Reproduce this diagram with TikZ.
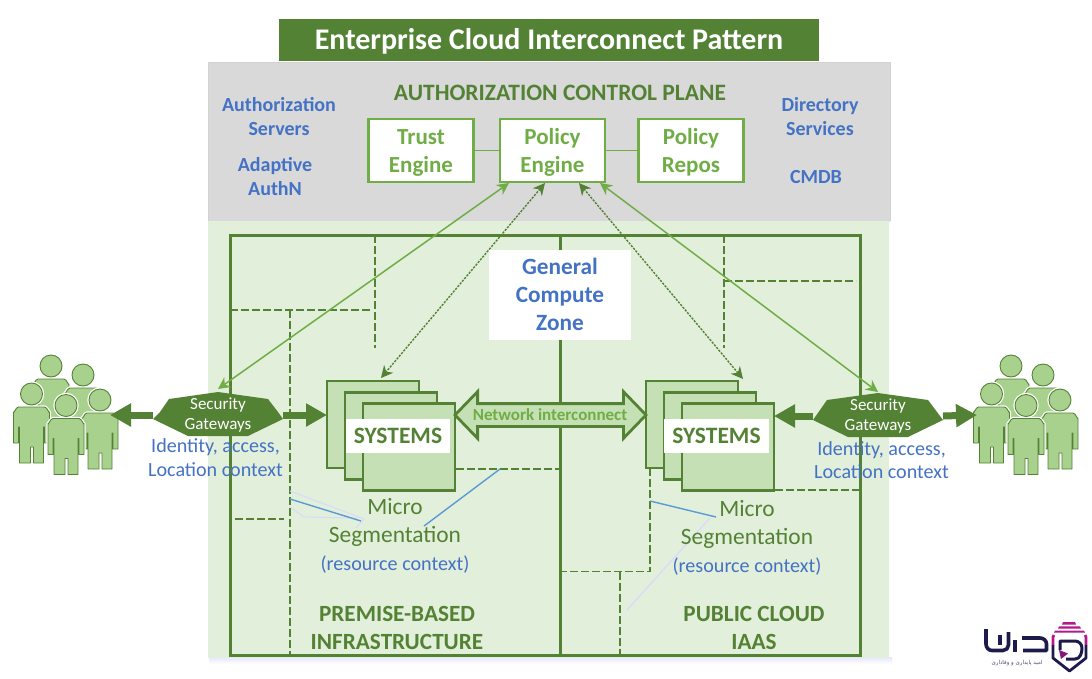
\documentclass[tikz,border=0pt]{standalone}
\usepackage{fontspec}
\setmainfont{Carlito}
\newfontfamily\arabicfont[Script=Arabic]{DejaVu Sans}
\TeXXeTstate=1
\usetikzlibrary{arrows.meta,shapes.arrows}
\definecolor{dkgreen}{HTML}{548235}
\definecolor{ltgreen}{HTML}{70AD47}
\definecolor{palegreen}{HTML}{E2EFDA}
\definecolor{sysgreen}{HTML}{C5E0B4}
\definecolor{usergreen}{HTML}{A9D18E}
\definecolor{txtblue}{HTML}{4472C4}
\definecolor{lnblue}{HTML}{5B9BD5}
\definecolor{graybg}{HTML}{D9D9D9}
\definecolor{logonavy}{HTML}{1D1B4C}
\definecolor{logopink}{HTML}{B5178C}
\tikzset{
  lbl/.style={align=center,inner sep=0,outer sep=0},
  engine/.style={draw=ltgreen,line width=2.8pt,fill=white,minimum width=105pt,minimum height=63pt,inner sep=0,outer sep=0},
  enginetxt/.style={lbl,text=ltgreen,font=\fontsize{23}{28}\selectfont\bfseries},
  sysbox/.style={draw=dkgreen,line width=2.8pt,fill=sysgreen,minimum width=92pt,minimum height=87pt,inner sep=0,outer sep=0},
  syslabel/.style={fill=white,minimum height=34pt,inner sep=0,outer sep=0,text=dkgreen,font=\fontsize{23.5}{28}\selectfont\bfseries},
  frameline/.style={draw=dkgreen,line width=3pt},
  dashline/.style={draw=dkgreen,line width=1.7pt,dash pattern=on 8pt off 3pt},
  gwshape/.style={fill=dkgreen,draw=none},
  gwtext/.style={minimum width=130pt,minimum height=48pt,inner sep=0,outer sep=0,align=center,text=white,font=\fontsize{17}{20}\selectfont},
  thickone/.style={draw=dkgreen,fill=dkgreen,line width=7pt,-{Triangle[width=22pt,length=21pt]}},
  solidlink/.style={draw=ltgreen,line width=1.5pt,{Stealth[length=12pt,width=12pt]}-{Stealth[length=12pt,width=12pt]}},
  dotlink/.style={draw=dkgreen,line width=1.4pt,dash pattern=on 2.2pt off 1.3pt,{Stealth[length=12pt,width=12pt]}-{Stealth[length=12pt,width=12pt]}},
  netarrow/.style={double arrow,double arrow head extend=12pt,double arrow tip angle=92,minimum height=191pt,draw=dkgreen,line width=2.8pt,fill=sysgreen,inner sep=0,outer sep=0},
  bluelbl/.style={lbl,text=txtblue,font=\fontsize{20.1}{23.5}\selectfont},
  boldblue/.style={lbl,text=txtblue,font=\fontsize{20}{24}\selectfont\bfseries},
  segtxt/.style={lbl,text=dkgreen,font=\fontsize{23.4}{28}\selectfont},
  zonetxt/.style={lbl,text=dkgreen,font=\fontsize{23.2}{28}\selectfont\bfseries},
  person/.pic={
    \path[draw=white,line width=3.4pt,fill=white,line join=round] (18,-13) circle[radius=11];
    \path[draw=white,line width=3.4pt,fill=white,line join=round] (0,5) to[out=-90,in=180] (5,0) -- (31,0) to[out=0,in=-90] (36,5) -- (36,36) -- (31,36) -- (30,56) -- (6,56) -- (5,36) -- (0,36) -- cycle;
    \path[draw=dkgreen,line width=0.9pt,fill=usergreen] (18,-13) circle[radius=11];
    \path[draw=dkgreen,line width=0.9pt,fill=usergreen,line join=round] (0,5) to[out=-90,in=180] (5,0) -- (31,0) to[out=0,in=-90] (36,5) -- (36,36) -- (31,36) -- (31,20) -- (30,20) -- (30,56) -- (20,56) -- (20,40) -- (17,40) -- (17,56) -- (6,56) -- (6,20) -- (5,20) -- (5,36) -- (0,36) -- cycle;
  }
}
\begin{document}
\begin{tikzpicture}[x=1pt,y=-1pt]
\useasboundingbox (0,0) rectangle (1092,678);
% backgrounds
\fill[white] (0,0) rectangle (1092,678);
\fill[graybg] (208,62) rectangle (890,222);
\draw[gray!35,line width=0.6pt] (208,221) -- (208,62) -- (890,62) -- (890,221);
\shade[top color=blue!10!white,bottom color=white] (209,657) rectangle (892,664);
\fill[palegreen] (208,221) rectangle (889,658);
\node[fill=dkgreen,minimum width=540pt,minimum height=42pt,inner sep=0,outer sep=0,text=white,text height=24pt,text depth=6pt,font=\fontsize{30}{32}\selectfont\bfseries] (title) at (549,40) {Enterprise Cloud Interconnect Pattern};
% frame
\draw[frameline] (230,235) rectangle (860,655);
\draw[frameline] (560,235) -- (560,655);
% dashed segments
\draw[dashline] (375,235) -- (375,348);
\draw[dashline] (230,310) -- (372,310);
\draw[dashline] (290,310) -- (290,655);
\draw[dashline] (235,519) -- (284,519);
\draw[dashline] (456,469) -- (560,469);
\draw[dashline] (724,235) -- (724,348);
\draw[dashline] (724,281) -- (856,281);
\draw[dashline] (650,468) -- (650,571.5) -- (562,571.5);
\draw[dashline] (620,571.5) -- (620,655);
\draw[dashline] (775,490) -- (860,490);
% pale & blue leaders
\draw[white!85!blue,line width=1pt] (290,491) -- (364,519) -- (356,528);
\draw[white!85!blue,line width=1pt] (290,507) -- (304,517) -- (357,518);
\draw[white!85!blue,line width=1.2pt] (710,518) -- (627,610);
\draw[lnblue,line width=1.4pt] (290,499) -- (361,521);
\draw[lnblue,line width=1.4pt] (500,469) -- (424,526);
\draw[lnblue,line width=1.4pt] (650,501) -- (716,517);
% control plane
\node[lbl,text=dkgreen,font=\fontsize{23.5}{28}\selectfont\bfseries] (acp) at (560,92.5) {AUTHORIZATION CONTROL PLANE};
\node[boldblue] (authsrv) at (279,117) {Authorization\\Servers};
\node[boldblue] (adapt) at (275,177) {Adaptive\\AuthN};
\node[boldblue] (dir) at (820,117) {Directory\\Services};
\node[boldblue] (cmdb) at (816,177) {CMDB};
\node[engine] (trust) at (421,150.5) {};
\node[engine] (policy) at (552.5,150.5) {};
\node[engine] (repos) at (691,150.5) {};
\node[enginetxt] (trustT) at ([yshift=-2pt]trust.center) {Trust\\Engine};
\node[enginetxt] (policyT) at ([yshift=-2pt]policy.center) {Policy\\Engine};
\node[enginetxt] (reposT) at ([yshift=-2pt]repos.center) {Policy\\Repos};
\draw[ltgreen,line width=1.8pt] (trust) -- (policy);
\draw[ltgreen,line width=1.8pt] (policy) -- (repos);
% zone label
\node[fill=white,minimum width=142pt,minimum height=90pt,inner sep=0,outer sep=0,outer sep=0] (zone) at (560,295) {};
\node[lbl,text=txtblue,font=\fontsize{23.3}{28}\selectfont\bfseries] (zoneT) at ([yshift=1pt]zone.center) {General\\Compute\\Zone};
% systems
\node[sysbox] (sysLa) at (373,424.5) {};
\node[sysbox] (sysLb) at (391,436) {};
\node[sysbox] (sysLc) at (409,447) {};
\node[syslabel,minimum width=104pt] (sysL) at (398,436) {SYSTEMS};
\node[sysbox] (sysRa) at (692,424.5) {};
\node[sysbox] (sysRb) at (710,436) {};
\node[sysbox] (sysRc) at (728,447) {};
\node[syslabel,minimum width=105pt] (sysR) at (716.5,436) {SYSTEMS};
% network interconnect
\node[netarrow] (net) at (550.5,415) {\rule{0pt}{20pt}};
\node[lbl,text=ltgreen,font=\fontsize{17}{20}\selectfont\bfseries] (netlbl) at (550,415) {Network interconnect};
% people
\pic at (33,379) {person};
\pic at (65,388) {person};
\pic at (13.5,407) {person};
\pic at (82,413) {person};
\pic at (48,418.5) {person};
\pic at (993,379) {person};
\pic at (1025,388) {person};
\pic at (973.5,407) {person};
\pic at (1042,413) {person};
\pic at (1008,418.5) {person};
\coordinate (usersL) at (110,415);
\coordinate (usersR) at (977,415);
% gateways
\fill[gwshape] (169,399) -- (218,392) -- (268,399) -- (278,412) -- (283,419) -- (248,436) -- (188,436) -- (153,419) -- (160,412) -- cycle;
\fill[gwshape] (827,400) -- (878,393) -- (928,400) -- (937,412) -- (943,420) -- (908,437) -- (848,437) -- (813,420) -- (820,410) -- cycle;
\node[gwtext] (gwL) at (218,415) {Security\\Gateways};
\node[gwtext] (gwR) at (878,416) {Security\\Gateways};
\draw[thickone] (gwL.west) -- (usersL);
\draw[thickone] (gwL.east) -- (gwL.east -| sysLa.west);
\draw[thickone] (gwR.west) -- (gwR.west -| sysRc.east);
\draw[thickone] (gwR.east) -- (usersR);
\node[bluelbl] (idL) at (215.5,457.5) {Identity, access,\\Location context};
\node[bluelbl] (idR) at (881.5,460) {Identity, access,\\Location context};
% connectors
\draw[solidlink] ([xshift=9pt,yshift=-1pt]policy.south west) -- ([yshift=2pt]gwL.north);
\draw[dotlink] ([xshift=45pt,yshift=-1pt]policy.south west) -- ([xshift=8pt,yshift=3pt]sysLa.north);
\draw[dotlink] ([xshift=-26pt,yshift=-1pt]policy.south east) -- ([xshift=51pt,yshift=2pt]sysRa.north);
\draw[solidlink] ([xshift=-5pt,yshift=-1pt]policy.south east) -- ([yshift=0pt]gwR.north);
% labels
\node[segtxt] (microL) at (395,522) {Micro\\Segmentation};
\node[bluelbl] (resL) at (395,565) {(resource context)};
\node[segtxt] (microR) at (747,524) {Micro\\Segmentation};
\node[bluelbl] (resR) at (747,567) {(resource context)};
\node[zonetxt] (prem) at (397,628) {PREMISE-BASED\\INFRASTRUCTURE};
\node[zonetxt] (pub) at (754,628) {PUBLIC CLOUD\\IAAS};
% logo
\begin{scope}[line cap=butt,line join=round]
\fill[logopink] (1063,622) -- (1075,622) -- (1076,624.5) -- (1062,624.5) -- cycle;
\fill[logopink] (1059,626.3) -- (1080,626.3) -- (1081,628.7) -- (1058,628.7) -- cycle;
\fill[logopink] (1055,630.5) -- (1084,630.5) -- (1085,632.7) -- (1054,632.7) -- cycle;
\draw[logopink,line width=2.8pt] (1054,635) -- (1053,637) -- (1053,645);
\draw[logopink,line width=2.8pt] (1085,635) -- (1086,637) -- (1086,645);
\draw[logonavy,line width=2.8pt] (1053,645) -- (1053,658) -- (1069.5,671) -- (1086,658) -- (1086,645);
\draw[logonavy,line width=3pt] (1060,650) -- (1060,641) -- (1075,641) to[out=0,in=90] (1082,648) to[out=-90,in=0] (1075,659) -- (1066,659);
\fill[logopink!70!logonavy] (1059,650) -- (1068,653.5) -- (1061,659) -- cycle;
\draw[logonavy,line width=3.6pt] (986,629) -- (986,644) to[out=-90,in=180] (992,650.5) -- (1003,650.5) to[out=0,in=-90] (1008.5,645) -- (1008.5,632);
\draw[logonavy,line width=3.6pt] (1000,635) -- (1000,645);
\draw[logonavy,line width=3.6pt] (1015,640) -- (1015,652);
\draw[logonavy,line width=3.6pt] (1022,638) -- (1040,638) to[out=0,in=90] (1046.5,644) -- (1046.5,650.5) -- (1023,650.5);
\end{scope}
\node[lbl,text=logonavy!80,font=\arabicfont\fontsize{5.5}{6}\selectfont] (tag) at (1017,663) {\beginR امید پایداری و وفاداری\endR};
\end{tikzpicture}
\end{document}
